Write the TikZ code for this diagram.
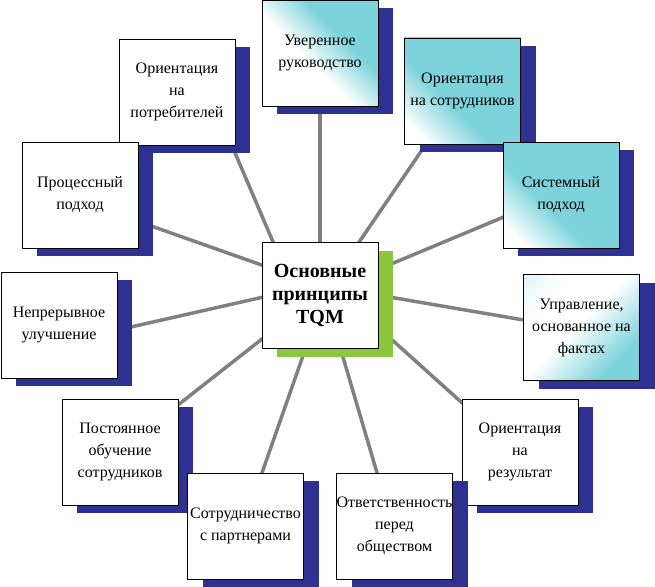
\documentclass[tikz,border=0pt]{standalone}
\usepackage{fontspec}
\setmainfont{Liberation Serif}
\usetikzlibrary{shadows,calc}
\definecolor{tcyan}{RGB}{125,211,219}
\definecolor{tcyanl}{RGB}{190,234,238}
\definecolor{sblue}{RGB}{46,49,146}
\definecolor{sgreen}{RGB}{140,198,63}
\definecolor{lgray}{RGB}{128,128,128}
\pgfdeclarelayer{background}
\pgfsetlayers{background,main}
\pgfdeclareverticalshading{shA}{100bp}{color(0bp)=(white); color(44bp)=(white); color(62bp)=(tcyan); color(100bp)=(tcyan)}
\pgfdeclareverticalshading{shB}{100bp}{color(0bp)=(white); color(22bp)=(white); color(42bp)=(tcyan); color(100bp)=(tcyan)}
\pgfdeclareverticalshading{shC}{100bp}{color(0bp)=(tcyanl); color(30bp)=(white); color(48bp)=(white); color(72bp)=(tcyan); color(100bp)=(tcyan)}
\tikzset{
  box/.style={draw=black, line width=0.9pt, fill=white,
    minimum width=116pt, minimum height=106pt, inner sep=0pt, align=center,
    font=\fontsize{16}{22}\selectfont,
    drop shadow={shadow xshift=15pt, shadow yshift=-8pt, fill=sblue, opacity=1, draw=none}},
  centerbox/.style={draw=black, line width=0.9pt, fill=white,
    minimum width=116pt, minimum height=106pt, inner sep=0pt, align=center,
    font=\fontsize{20}{23}\selectfont\bfseries,
    drop shadow={shadow xshift=15pt, shadow yshift=-9pt, fill=sgreen, opacity=1, draw=none}},
  conn/.style={draw=lgray, line width=3.5pt}
}
\begin{document}
\begin{tikzpicture}[x=1pt,y=-1pt]
\useasboundingbox (0,0) rectangle (655,586);
\node[centerbox] (c) at (320,295) {Основные\\принципы\\TQM};
\node[box, shading=shA, shading angle=-45] (n2) at (320,53) {Уверенное\\руководство};
\node[box] (n1) at (177,92) {Ориентация\\на\\потребителей};
\node[box, shading=shB, shading angle=-45] (n3) at (462.5,91) {Ориентация\\на сотрудников};
\node[box] (n4) at (80,195) {Процессный\\подход};
\node[box, shading=shB, shading angle=-45] (n5) at (561,195) {Системный\\подход};
\node[box] (n6) at (59,325) {Непрерывное\\улучшение};
\node[box, shading=shC, shading angle=-135] (n7) at (581.5,327.5) {Управление,\\основанное на\\фактах};
\node[box] (n8) at (120,452) {Постоянное\\обучение\\сотрудников};
\node[box] (n9) at (520,452) {Ориентация\\на\\результат};
\node[box] (n10) at (245.5,526) {Сотрудничество\\с партнерами};
\node[box] (n11) at (394.5,526) {Ответственность\\перед\\обществом};
\begin{pgfonlayer}{background}
\draw[conn] ($(c)+(-35,-25)$) -- ($(n1)+(44,28)$);
\draw[conn] (c) -- (n2);
\draw[conn] ($(c)+(20,-25)$) -- ($(n3)+(-20,29)$);
\draw[conn] ($(c)+(-30,-20)$) -- ($(n4)+(40,20)$);
\draw[conn] ($(c)+(40,-18)$) -- ($(n5)+(-31,11)$);
\draw[conn] ($(c)+(-30,-4)$) -- ($(n6)+(41,9)$);
\draw[conn] ($(c)+(40,-3)$) -- ($(n7)+(-31.5,-3)$);
\draw[conn] ($(c)+(-30,22)$) -- ($(n8)+(30,-25)$);
\draw[conn] ($(c)+(50,25)$) -- ($(n9)+(-30,-24)$);
\draw[conn] ($(c)+(-8,35)$) -- ($(n10)+(7,-26)$);
\draw[conn] ($(c)+(15,35)$) -- ($(n11)+(-9.5,-26)$);
\end{pgfonlayer}
\end{tikzpicture}
\end{document}
